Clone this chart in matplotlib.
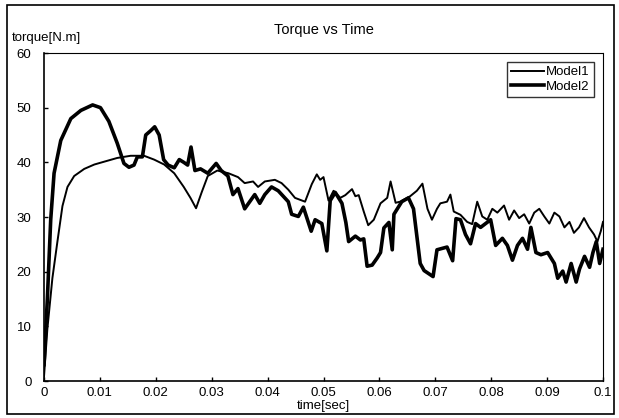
import numpy as np
import matplotlib
matplotlib.use("Agg")
import matplotlib.pyplot as plt
from matplotlib.patches import Rectangle

# data (time in sec, torque in N.m)
t1 = [0, 0.0006, 0.0015, 0.0024, 0.0033, 0.0042, 0.0054, 0.0072, 0.009, 0.0107,
      0.0131, 0.0155, 0.0179, 0.0197, 0.0215, 0.0233, 0.025, 0.0262, 0.0272, 0.0282,
      0.0293, 0.031, 0.033, 0.0347, 0.0359, 0.0374, 0.0383, 0.0395, 0.0413, 0.0425,
      0.0437, 0.0449, 0.0467, 0.0479, 0.0488, 0.0494, 0.050, 0.0509, 0.0518, 0.053,
      0.0539, 0.0551, 0.0557, 0.0563, 0.0572, 0.058, 0.059, 0.0602, 0.0614, 0.062,
      0.0629, 0.0637, 0.0646, 0.0655, 0.0667, 0.0677, 0.0686, 0.0694, 0.0703, 0.0709,
      0.0721, 0.0727, 0.0733, 0.0745, 0.0757, 0.0766, 0.0775, 0.0784, 0.0793, 0.0802,
      0.0811, 0.0823, 0.0832, 0.0841, 0.085, 0.0859, 0.0868, 0.0877, 0.0886, 0.0895,
      0.0904, 0.0913, 0.0922, 0.0931, 0.094, 0.0948, 0.0957, 0.0966, 0.0975, 0.0984,
      0.099, 0.0996, 0.1]
y1 = [0.8, 9.5, 18.8, 25.5, 32, 35.5, 37.5, 38.8, 39.6, 40.1,
      40.8, 41.2, 41.2, 40.5, 39.6, 38, 35.5, 33.5, 31.6, 34.5,
      37.5, 38.5, 38, 37.3, 36.2, 36.5, 35.5, 36.5, 36.8, 36.2,
      35, 33.5, 32.8, 36, 37.8, 36.8, 37.3, 33, 34.8, 33.5,
      34, 35.1, 33.8, 34, 31, 28.5, 29.5, 32.5, 33.5, 36.5,
      32.6, 32.8, 33.3, 33.8, 34.8, 36.1, 31.5, 29.5, 31.5, 32.5,
      32.8, 34.1, 31, 30.4, 29.1, 28.7, 32.8, 30.1, 29.5, 31.5,
      30.8, 32.1, 29.5, 31.2, 29.8, 30.5, 28.8, 30.8, 31.5, 30.1,
      28.8, 30.8, 30.1, 28.1, 29.1, 27.1, 28.1, 29.8, 28.1, 26.8,
      25.5, 27.4, 29.1]

t2 = [0, 0.0006, 0.0012, 0.0018, 0.003, 0.0048, 0.0066, 0.0087, 0.0101, 0.0116,
      0.0131, 0.0143, 0.0152, 0.0161, 0.0167, 0.0176, 0.0182, 0.0191, 0.0198, 0.0206,
      0.0214, 0.0222, 0.0233, 0.0242, 0.025, 0.0257, 0.0263, 0.027, 0.028, 0.0293,
      0.0308, 0.0317, 0.0329, 0.0338, 0.0347, 0.0359, 0.0368, 0.0377, 0.0386, 0.0395,
      0.0407, 0.0419, 0.0437, 0.0443, 0.0455, 0.0464, 0.0478, 0.0485, 0.0497, 0.0506,
      0.0512, 0.0521, 0.0533, 0.054, 0.0545, 0.0557, 0.0566, 0.0572, 0.0578, 0.0587,
      0.0596, 0.0602, 0.0608, 0.0617, 0.0623, 0.0626, 0.064, 0.0652, 0.0661, 0.0667,
      0.0673, 0.068, 0.0696, 0.0703, 0.0721, 0.0731, 0.0737, 0.0745, 0.0754, 0.0763,
      0.0772, 0.0781, 0.079, 0.0799, 0.0808, 0.082, 0.0829, 0.0838, 0.0847, 0.0856,
      0.0865, 0.0871, 0.088, 0.0889, 0.0901, 0.0913, 0.0919, 0.0928, 0.0934, 0.0943,
      0.0952, 0.0958, 0.0967, 0.0976, 0.0982, 0.0988, 0.0994, 0.1]
y2 = [3, 15, 29.5, 38, 44, 48, 49.5, 50.5, 50, 47.5,
      43.5, 39.8, 39.1, 39.5, 41, 41, 45, 45.8, 46.5, 45,
      40.5, 39.5, 39, 40.5, 40, 39.5, 42.8, 38.5, 38.8, 38,
      39.8, 38.5, 37.5, 34.1, 35.2, 31.5, 32.8, 34.1, 32.5, 34.1,
      35.5, 34.8, 32.8, 30.5, 30.1, 31.8, 27.4, 29.5, 28.8, 23.8,
      33, 34.5, 32.5, 29, 25.5, 26.5, 25.8, 26, 21, 21.2,
      22.5, 23.5, 28, 29, 24, 30.5, 32.8, 33.5, 31.5, 26.5,
      21.5, 20.2, 19.1, 24, 24.5, 22, 29.7, 29.5, 26.8, 25.1,
      28.8, 28.1, 28.8, 29.5, 24.8, 26.1, 24.8, 22.1, 24.8, 26.1,
      24.1, 28.1, 23.5, 23.1, 23.5, 21.5, 18.8, 20.1, 18.1, 21.5,
      18.1, 20.5, 22.8, 20.8, 23.5, 25.5, 21.5, 24.1]

xticks = [0, 0.01, 0.02, 0.03, 0.04, 0.05, 0.06, 0.07, 0.08, 0.09, 0.1]
xticklabels = ["0", "0.01", "0.02", "0.03", "0.04", "0.05", "0.06", "0.07", "0.08", "0.09", "0.1"]
yticks = [0, 10, 20, 30, 40, 50, 60]

plt.rcParams["font.family"] = ["Liberation Sans", "DejaVu Sans"]

W, H = 619, 418
fig = plt.figure(figsize=(W / 100, H / 100), dpi=100)

# axes box in pixel coords of the reference
left, right, top, bottom = 44, 603, 53, 381
ax = fig.add_axes([left / W, 1 - bottom / H, (right - left) / W, (bottom - top) / H])

ax.plot(t1, y1, color="k", lw=1.4, label="Model1")
ax.plot(t2, y2, color="k", lw=2.6, label="Model2")

ax.set_xlim(0, 0.1)
ax.set_ylim(0, 60)
ax.set_xticks(xticks)
ax.set_xticklabels(xticklabels)
ax.set_yticks(yticks)
ax.tick_params(direction="in", length=3, width=1, labelsize=9.5)
ax.tick_params(axis="y", pad=9)
ax.tick_params(axis="x", pad=4)

for s in ("left", "bottom"):
    ax.spines[s].set_linewidth(1.2)
for s in ("top", "right"):
    ax.spines[s].set_linewidth(0.8)
    ax.spines[s].set_linestyle((0, (2, 1)))

ax.set_xlabel("time[sec]", fontsize=9.5, labelpad=1)
fig.text(12 / W, 1 - 38 / H, "torque[N.m]", fontsize=9.5, ha="left", va="center")
fig.text(0.5 * (left + right) / W, 1 - 30 / H, "Torque vs Time", fontsize=10.5, ha="center", va="center")

leg = ax.legend(loc="upper right", fontsize=9.5, frameon=True, fancybox=False,
                edgecolor="k", handlelength=2.5, borderpad=0.3, labelspacing=0.15,
                handletextpad=0.2, borderaxespad=0.7)
leg.get_frame().set_linewidth(1.0)

# outer chart border
fig.patches.append(Rectangle((7 / W, 4 / H), 607 / W, 409 / H, transform=fig.transFigure,
                             fill=False, edgecolor="k", lw=1.2))

fig.savefig("out.png", dpi=100)
